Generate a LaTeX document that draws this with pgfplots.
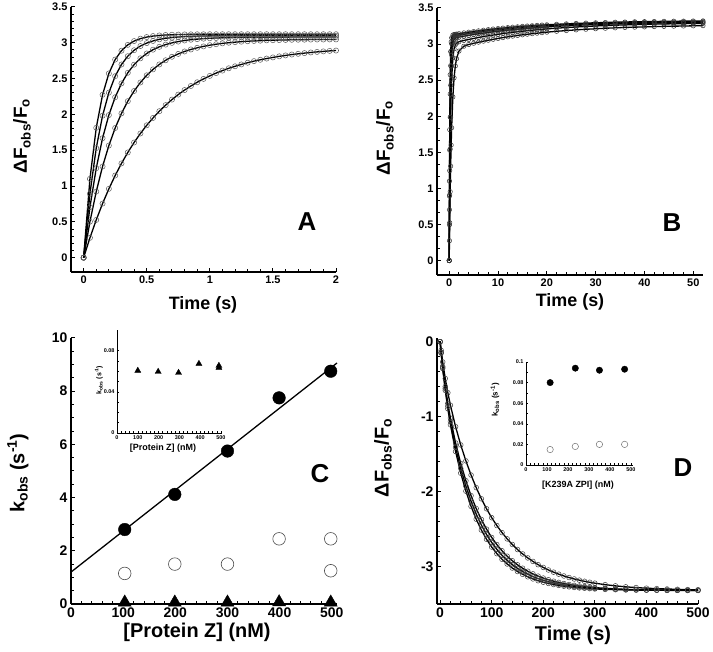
\documentclass[border=0pt]{standalone}
\usepackage{fontspec}
\setmainfont{Liberation Sans}
\usepackage{pgfplots}
\usepackage{pgfplotstable}
\pgfplotsset{compat=1.18}

% panel A: fluorescence rise, 0-2 s
\pgfplotstableread{
t    a1    a2    a3    a4    a5
0    0     0     0     0     0
0.05 1.100 0.893 0.705 0.502 0.277
0.10 1.813 1.530 1.249 0.922 0.527
0.15 2.274 1.982 1.668 1.273 0.755
0.20 2.572 2.304 1.991 1.565 0.961
0.25 2.766 2.534 2.240 1.810 1.147
0.30 2.890 2.697 2.433 2.014 1.316
0.35 2.971 2.813 2.581 2.185 1.469
0.40 3.024 2.896 2.695 2.327 1.608
0.45 3.058 2.955 2.783 2.446 1.734
0.50 3.080 2.996 2.851 2.546 1.848
0.55 3.094 3.026 2.904 2.629 1.951
0.60 3.103 3.048 2.944 2.698 2.045
0.65 3.109 3.063 2.975 2.756 2.130
0.70 3.113 3.073 2.999 2.805 2.207
0.75 3.115 3.081 3.017 2.845 2.277
0.80 3.117 3.087 3.032 2.879 2.340
0.85 3.118 3.090 3.043 2.907 2.397
0.90 3.119 3.093 3.051 2.930 2.449
0.95 3.119 3.095 3.058 2.950 2.496
1.00 3.120 3.097 3.063 2.967 2.538
1.05 3.120 3.098 3.067 2.980 2.577
1.10 3.120 3.099 3.070 2.992 2.612
1.15 3.120 3.099 3.072 3.001 2.644
1.20 3.120 3.100 3.074 3.009 2.672
1.25 3.120 3.100 3.075 3.016 2.698
1.30 3.120 3.100 3.076 3.022 2.722
1.35 3.120 3.100 3.077 3.026 2.744
1.40 3.120 3.100 3.078 3.030 2.763
1.45 3.120 3.100 3.078 3.034 2.780
1.50 3.120 3.100 3.079 3.036 2.796
1.55 3.120 3.100 3.079 3.038 2.811
1.60 3.120 3.100 3.079 3.040 2.824
1.65 3.120 3.100 3.080 3.042 2.836
1.70 3.120 3.100 3.080 3.043 2.846
1.75 3.120 3.100 3.080 3.044 2.856
1.80 3.120 3.100 3.080 3.045 2.865
1.85 3.120 3.100 3.080 3.046 2.873
1.90 3.120 3.100 3.080 3.046 2.880
1.95 3.120 3.100 3.080 3.047 2.887
2.00 3.120 3.100 3.080 3.047 2.892
}\tabA

% panel B: same traces out to 52 s
\pgfplotstableread{
t    b1    b2    b3    b4    b5
0    0     0     0     0     0
0.05 1.101 0.894 0.704 0.495 0.275
0.1  1.814 1.531 1.246 0.909 0.524
0.2  2.575 2.307 1.988 1.544 0.955
0.3  2.894 2.701 2.429 1.986 1.309
0.4  3.029 2.901 2.692 2.296 1.600
0.5  3.086 3.003 2.849 2.513 1.840
0.75 3.124 3.091 3.019 2.811 2.268
1    3.132 3.110 3.067 2.935 2.533
1.25 3.135 3.116 3.082 2.989 2.696
1.5  3.138 3.119 3.090 3.013 2.798
2    3.144 3.125 3.097 3.032 2.903
3    3.155 3.136 3.110 3.050 2.970
4    3.165 3.147 3.121 3.064 2.994
5    3.174 3.157 3.132 3.078 3.011
6    3.183 3.166 3.142 3.091 3.026
7    3.192 3.175 3.152 3.103 3.040
8    3.200 3.184 3.161 3.114 3.053
9    3.208 3.192 3.170 3.125 3.066
10   3.215 3.199 3.178 3.135 3.078
11   3.221 3.206 3.186 3.145 3.089
12   3.228 3.213 3.193 3.154 3.100
13   3.234 3.219 3.200 3.163 3.110
14   3.239 3.225 3.206 3.170 3.119
15   3.245 3.230 3.212 3.178 3.128
16   3.250 3.236 3.218 3.185 3.136
17   3.254 3.241 3.223 3.192 3.144
18   3.259 3.245 3.228 3.198 3.151
19   3.263 3.250 3.233 3.204 3.158
20   3.267 3.254 3.238 3.210 3.165
22   3.274 3.261 3.246 3.220 3.177
24   3.280 3.268 3.253 3.229 3.187
26   3.286 3.274 3.260 3.237 3.197
28   3.291 3.279 3.265 3.244 3.205
30   3.295 3.284 3.270 3.251 3.212
32   3.299 3.288 3.275 3.256 3.219
34   3.303 3.291 3.279 3.261 3.225
36   3.306 3.295 3.282 3.266 3.230
38   3.309 3.298 3.286 3.269 3.234
40   3.311 3.300 3.288 3.273 3.238
42   3.313 3.302 3.291 3.276 3.242
44   3.315 3.304 3.293 3.279 3.245
46   3.317 3.306 3.295 3.281 3.248
48   3.318 3.308 3.297 3.283 3.250
50   3.320 3.309 3.298 3.285 3.253
52   3.321 3.310 3.299 3.287 3.255
}\tabB

% panel D: fluorescence decay, 0-500 s
\pgfplotstableread{
t   d1     d2     d3     d4
0   0      0      0      0
2   -0.152 -0.146 -0.140 -0.115
5   -0.357 -0.343 -0.329 -0.270
10  -0.649 -0.624 -0.598 -0.491
15  -0.895 -0.860 -0.823 -0.680
20  -1.108 -1.064 -1.019 -0.847
30  -1.464 -1.408 -1.350 -1.134
40  -1.754 -1.691 -1.624 -1.377
50  -1.994 -1.927 -1.855 -1.590
60  -2.197 -2.128 -2.054 -1.779
70  -2.368 -2.300 -2.226 -1.947
80  -2.513 -2.446 -2.373 -2.096
90  -2.636 -2.572 -2.501 -2.229
100 -2.740 -2.679 -2.612 -2.348
110 -2.828 -2.771 -2.707 -2.453
120 -2.903 -2.850 -2.790 -2.547
130 -2.966 -2.917 -2.862 -2.631
140 -3.020 -2.975 -2.923 -2.706
150 -3.066 -3.025 -2.977 -2.773
160 -3.104 -3.067 -3.023 -2.832
170 -3.137 -3.103 -3.063 -2.885
180 -3.165 -3.135 -3.098 -2.932
190 -3.189 -3.161 -3.128 -2.975
200 -3.209 -3.184 -3.154 -3.012
210 -3.225 -3.203 -3.176 -3.046
220 -3.240 -3.220 -3.196 -3.075
230 -3.252 -3.235 -3.212 -3.102
240 -3.262 -3.247 -3.227 -3.126
250 -3.271 -3.257 -3.240 -3.147
260 -3.279 -3.266 -3.251 -3.166
270 -3.285 -3.274 -3.260 -3.182
280 -3.290 -3.281 -3.268 -3.197
290 -3.295 -3.286 -3.275 -3.210
300 -3.299 -3.291 -3.281 -3.222
320 -3.305 -3.299 -3.291 -3.242
340 -3.309 -3.304 -3.298 -3.258
360 -3.312 -3.309 -3.304 -3.271
380 -3.314 -3.312 -3.308 -3.281
400 -3.316 -3.314 -3.311 -3.289
420 -3.317 -3.315 -3.313 -3.295
440 -3.318 -3.317 -3.315 -3.300
460 -3.318 -3.317 -3.316 -3.304
480 -3.319 -3.318 -3.317 -3.308
500 -3.319 -3.318 -3.317 -3.310
}\tabD

\pgfplotsset{
  panel/.style={
    scale only axis, anchor=south west,
    axis x line*=bottom, axis y line*=left,
    axis line style={-, line width=1.3bp},
    tick align=inside,
    tick style={black, line width=1bp},
    major tick length=4bp, minor tick length=3bp,
    /pgf/number format/assume math mode=true,
    tick label style={font=\bfseries\fontsize{11}{11}\selectfont},
  },
  inset/.style={
    panel,
    axis line style={-, line width=0.7bp},
    tick style={black, line width=0.5bp},
    major tick length=2bp, minor tick length=1.5bp,
    tick label style={font=\bfseries\fontsize{5.5}{5.5}\selectfont},
    xticklabel style={yshift=1bp}, yticklabel style={xshift=1bp},
    scaled y ticks=false,
    yticklabel style={/pgf/number format/fixed, /pgf/number format/precision=2},
  },
  data/.style={only marks, mark=o, mark size=2.6bp, draw=black!65, mark options={line width=0.5bp}},
  fit/.style={black, line width=1.3bp, no marks},
}

\newcommand{\lab}[1]{\bfseries\fontsize{#1}{#1}\selectfont}

\begin{document}
\begin{tikzpicture}[x=1bp, y=1bp]
\path[use as bounding box] (0,0) rectangle (713,652);

% ---- A ----
\begin{axis}[panel, at={(71bp,380bp)}, width=265bp, height=265bp,
  xmin=-0.1, xmax=2, ymin=-0.2, ymax=3.5,
  xtick={0,0.5,1,1.5,2}, ytick={0,0.5,1,1.5,2,2.5,3,3.5},
  minor x tick num=4, minor y tick num=4]
  \pgfplotsinvokeforeach{a1,a2,a3,a4,a5}{
    \addplot[data] table[x=t, y=#1] {\tabA};
    \addplot[fit] table[x=t, y=#1] {\tabA};
  }
\end{axis}

% ---- B ----
\begin{axis}[panel, at={(437bp,377bp)}, width=266bp, height=267bp,
  xmin=-2.5, xmax=52, ymin=-0.2, ymax=3.5,
  xtick={0,10,...,50}, ytick={0,0.5,1,1.5,2,2.5,3,3.5},
  minor x tick num=4, minor y tick num=2]
  \pgfplotsinvokeforeach{b1,b2,b3,b4,b5}{
    \addplot[data, mark size=2.2bp, draw=black!80] table[x=t, y=#1] {\tabB};
    \addplot[fit] table[x=t, y=#1] {\tabB};
  }
\end{axis}

% ---- C ----
\begin{axis}[panel, at={(71bp,48bp)}, width=266bp, height=266bp,
  xmin=0, xmax=510, ymin=0, ymax=10, clip=false,
  xtick={0,100,...,500}, ytick={0,2,...,10},
  minor x tick num=4, minor y tick num=3,
  tick label style={font=\bfseries\fontsize{14}{14}\selectfont}]
  \addplot[fit] coordinates {(0,1.2) (510,9.06)};
  \addplot[only marks, mark=*, mark size=6.3bp, black] coordinates {
    (103,2.80) (199,4.12) (300,5.75) (399,7.75) (498,8.75)};
  \addplot[only marks, mark=o, mark size=6.3bp, draw=black!70, mark options={line width=0.6bp}] coordinates {
    (103,1.15) (199,1.50) (300,1.50) (399,2.45) (498,2.45) (498,1.25)};
  \addplot[only marks, mark=triangle*, mark size=7.5bp, black] coordinates {
    (103,0.06) (199,0.06) (300,0.06) (399,0.07) (498,0.06)};
\end{axis}

% ---- C inset ----
\begin{axis}[inset, at={(117bp,219bp)}, width=105bp, height=103bp,
  xmin=0, xmax=505, ymin=0, ymax=0.1,
  xtick={0,100,...,500}, ytick={0,0.04,0.08},
  minor x tick num=4, minor y tick num=3]
  \addplot[only marks, mark=triangle*, mark size=3.5bp, black] coordinates {
    (100,0.0605) (198,0.0595) (296,0.0585) (394,0.0672) (490,0.0653) (490,0.0633)};
\end{axis}

% ---- D ----
\begin{axis}[panel, at={(437bp,48bp)}, width=261bp, height=266bp,
  xmin=-6, xmax=500, ymin=-3.5, ymax=0.05,
  xtick={0,100,...,500}, ytick={-3,-2,-1,0},
  minor x tick num=4, minor y tick num=4,
  tick label style={font=\bfseries\fontsize{14}{14}\selectfont}]
  \pgfplotsinvokeforeach{d1,d2,d3,d4}{
    \addplot[data, mark size=2.4bp, draw=black!75] table[x=t, y=#1] {\tabD};
    \addplot[fit] table[x=t, y=#1] {\tabD};
  }
\end{axis}

% ---- D inset ----
\begin{axis}[inset, at={(526bp,187bp)}, width=107bp, height=103bp,
  xmin=0, xmax=510, ymin=0, ymax=0.1,
  xtick={0,100,...,500}, ytick={0,0.02,...,0.1},
  minor x tick num=4, minor y tick num=1]
  \addplot[only marks, mark=*, mark size=3.2bp, black] coordinates {
    (115,0.080) (235,0.094) (350,0.092) (470,0.093)};
  \addplot[only marks, mark=o, mark size=3.2bp, draw=black!55, mark options={line width=0.5bp}] coordinates {
    (115,0.015) (235,0.018) (350,0.020) (470,0.020)};
\end{axis}

% axis titles
\node[font=\lab{18}] at (203,347) {Time (s)};
\node[font=\lab{18}] at (570,350) {Time (s)};
\node[font=\lab{20}] at (197,20) {[Protein Z] (nM)};
\node[font=\lab{20}] at (573,17) {Time (s)};
\node[font=\lab{19}, rotate=90] at (22,516) {ΔF\textsubscript{obs}/F\textsubscript{o}};
\node[font=\lab{19}, rotate=90] at (385,514) {ΔF\textsubscript{obs}/F\textsubscript{o}};
\node[font=\lab{20}, rotate=90] at (18,179) {k\textsubscript{obs} (s\textsuperscript{-1})};
\node[font=\lab{20}, rotate=90] at (383,194) {ΔF\textsubscript{obs}/F\textsubscript{o}};
% inset titles
\node[font=\lab{7}, rotate=90] at (99,272) {k\textsubscript{obs} (s\textsuperscript{-1})};
\node[font=\lab{9}] at (163,204) {[Protein Z] (nM)};
\node[font=\lab{8}, rotate=90] at (495,252) {k\textsubscript{obs} (s\textsuperscript{-1})};
\node[font=\lab{9}] at (578,167) {[K239A ZPI] (nM)};
% panel letters
\node[font=\lab{26}] at (307,430) {A};
\node[font=\lab{26}] at (672,429) {B};
\node[font=\lab{26}] at (320,178) {C};
\node[font=\lab{26}] at (683,184) {D};
\end{tikzpicture}
\end{document}
